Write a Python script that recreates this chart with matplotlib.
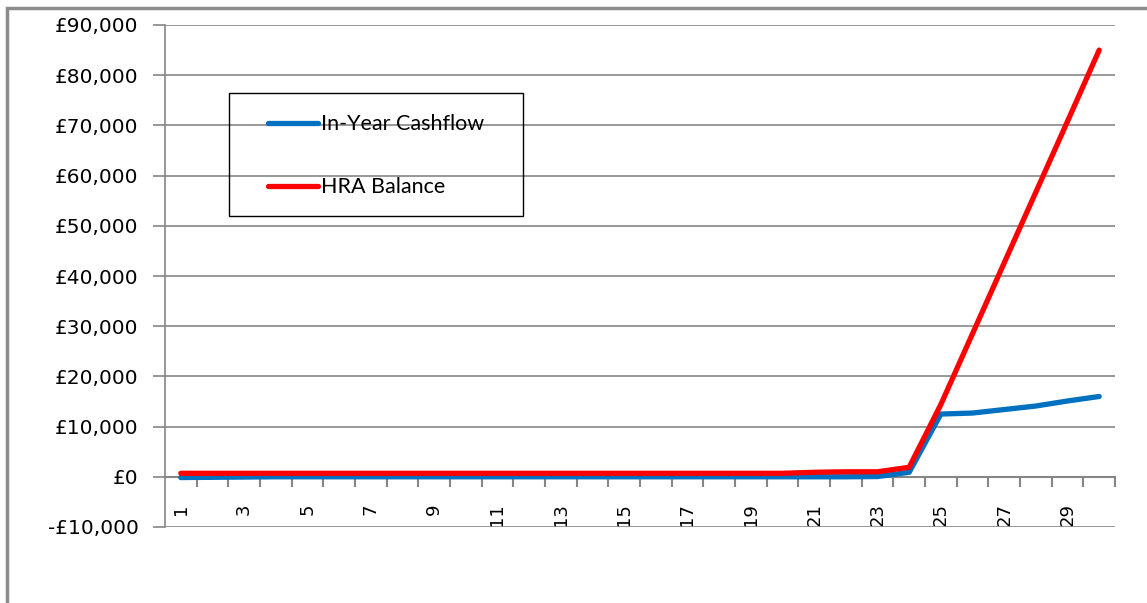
import matplotlib.pyplot as plt
from matplotlib.patches import Rectangle

years = list(range(1, 31))
in_year_cashflow = [-150, -100, -50, 0, 0, 0, 0, 0, 0, 0,
                    0, 0, 0, 0, 0, 0, 0, 0, 0, 0,
                    0, 0, 50, 900, 12500, 12700, 13400, 14100, 15100, 16000]
hra_balance = [700, 700, 700, 700, 700, 700, 700, 700, 700, 700,
               700, 700, 700, 700, 700, 700, 700, 700, 700, 700,
               900, 1000, 1000, 1900, 14400, 28500, 42600, 56700, 70800, 85000]
y_ticks = list(range(-10000, 90001, 10000))
x_labels = [str(y) if y % 2 == 1 else '' for y in years]

fig = plt.figure(figsize=(11.47, 6.03), dpi=100)
ax = fig.add_axes([165 / 1147, 1 - 527 / 603, (1115 - 165) / 1147, (527 - 25) / 603])

grey = '#868686'
ax.plot(years, in_year_cashflow, color='#0070C0', lw=3.8, solid_capstyle='round',
        label='In-Year Cashflow', zorder=3)
ax.plot(years, hra_balance, color='#FF0000', lw=3.8, solid_capstyle='round',
        label='HRA Balance', zorder=4)

ax.set_xlim(0.5, 30.5)
ax.set_ylim(-10000, 90000)
ax.set_yticks(y_ticks)
ax.set_yticklabels(['-£10,000' if v < 0 else '£{:,}'.format(v) for v in y_ticks],
                   fontsize=14.5, family='DejaVu Sans')
ax.yaxis.grid(True, color=grey, lw=1.2)
ax.tick_params(axis='y', length=9, width=1.2, color=grey, pad=10)

# x axis drawn on the zero line
ax.spines['bottom'].set_position(('data', 0))
ax.spines['bottom'].set_color(grey)
ax.spines['bottom'].set_linewidth(1.5)
ax.spines['left'].set_color(grey)
ax.spines['left'].set_linewidth(1.2)
ax.spines['top'].set_visible(False)
ax.spines['right'].set_visible(False)
ax.set_xticks(years)
ax.set_xticklabels(x_labels, rotation=90, fontsize=13, va='top', ha='center')
ax.set_xticks([y + 0.5 for y in years], minor=True)
ax.tick_params(axis='x', which='major', length=0, pad=19)
ax.tick_params(axis='x', which='minor', length=7, width=1.5, color=grey, direction='out')

leg = ax.legend(loc='upper left', bbox_to_anchor=(84 / 950, 1 - 70 / 502),
                frameon=False, prop={'family': 'Lato', 'size': 15.5},
                handlelength=2.3, handletextpad=0.15, labelspacing=2.0)
ax.add_patch(Rectangle(((229 - 165) / 950, 1 - (216 - 25) / 502),
                       (523 - 229) / 950, (216 - 93) / 502,
                       transform=ax.transAxes, fill=False, ec='black', lw=1, zorder=5))

fig.patches.append(Rectangle((7 / 1147, -0.05), 1.1, 1.05 - 8 / 603,
                             transform=fig.transFigure, fill=False, ec='#8c8c8c', lw=2.5))

plt.savefig('out.png', dpi=100)
